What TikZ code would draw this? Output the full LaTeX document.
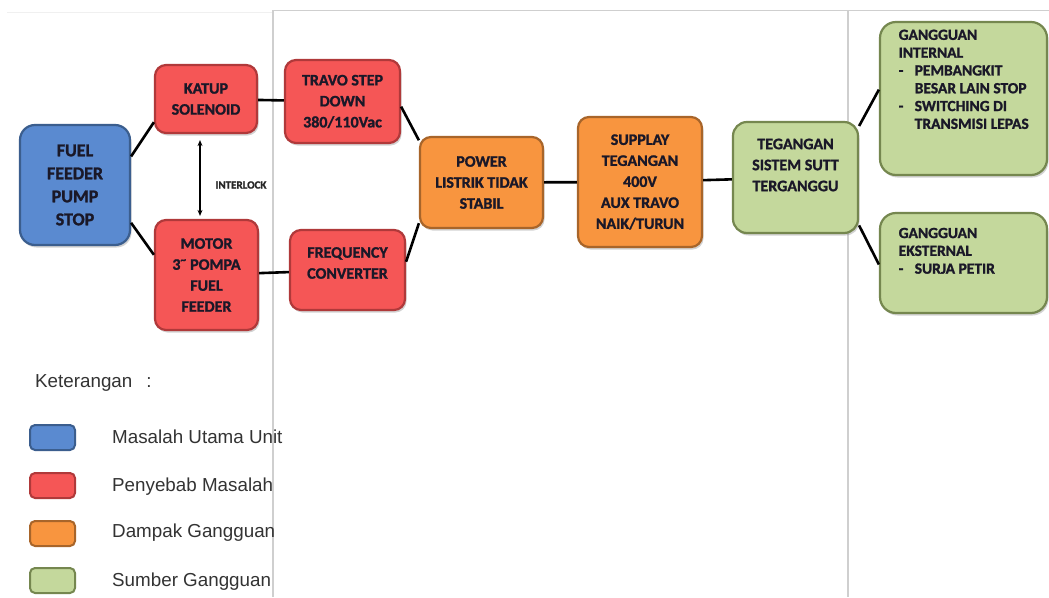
\documentclass[tikz,border=0pt]{standalone}
\usepackage{fontspec}
\newfontfamily\boxfont{Carlito}[BoldFeatures={FakeBold=1.4}]
\newfontfamily\legfont{Liberation Sans}
\usetikzlibrary{shadows,arrows.meta}

\definecolor{ink}{HTML}{1A1828}
\definecolor{blueF}{HTML}{5A8AD0}
\definecolor{blueD}{HTML}{3B5E8E}
\definecolor{redF}{HTML}{F55656}
\definecolor{redD}{HTML}{B0393A}
\definecolor{orgF}{HTML}{F8953F}
\definecolor{orgD}{HTML}{A8652A}
\definecolor{grnF}{HTML}{C4D89C}
\definecolor{grnD}{HTML}{75874F}
\definecolor{frame}{HTML}{CFCFCF}
\definecolor{legtext}{HTML}{333333}

\begin{document}
\begin{tikzpicture}[x=1pt,y=-1pt,
  box/.style={draw, line width=2.2pt, rounded corners=11pt, align=center,
    text=ink, inner sep=0pt,
    font=\boxfont\bfseries\fontsize{16}{21}\selectfont,
    drop shadow={shadow xshift=1.5pt,shadow yshift=-2.5pt,opacity=.35}},
  bluebox/.style={box, fill=blueF, draw=blueD, rounded corners=15pt},
  redbox/.style={box, fill=redF, draw=redD},
  orgbox/.style={box, fill=orgF, draw=orgD},
  grnbox/.style={box, fill=grnF, draw=grnD, rounded corners=16pt},
  boxtext/.style={text=ink, inner sep=0pt, align=center,
    font=\boxfont\bfseries\fontsize{16}{21}\selectfont},
  listtext/.style={text=ink, inner sep=0pt, align=left, anchor=north west,
    font=\boxfont\bfseries\fontsize{15.5}{17.8}\selectfont},
  link/.style={line width=2.6pt, black},
  swatch/.style={draw, line width=2pt, rounded corners=5pt,
    minimum width=45pt, minimum height=25pt, inner sep=0pt},
  legitem/.style={anchor=west, inner sep=0pt, text=legtext,
    font=\legfont\fontsize{18.8}{22}\selectfont}]

\useasboundingbox (0,0) rectangle (1049,597);
\fill[white] (0,0) rectangle (1049,597);

% panel frame lines
\draw[gray!12, line width=1pt] (7,12) -- (273,12);
\draw[frame, line width=1.4pt] (273,597) -- (273,10.5) -- (1049,10.5);
\draw[frame, line width=1.4pt] (848,10.5) -- (848,597);

% boxes
\node[bluebox, minimum width=110pt, minimum height=120pt,
  font=\boxfont\bfseries\fontsize{18}{23}\selectfont] (fuel) at (75,185)
  {FUEL\\FEEDER\\PUMP\\STOP};
\node[redbox, minimum width=102pt, minimum height=68pt] (katup) at (206,99)
  {KATUP\\SOLENOID};
\node[redbox, minimum width=103pt, minimum height=110pt] (motor) at (206.5,275)
  {MOTOR\\3\textsuperscript{\textasciitilde} POMPA\\FUEL\\FEEDER};
\node[redbox, minimum width=115pt, minimum height=83pt] (travo) at (342.5,101.5)
  {TRAVO STEP\\DOWN\\380/110Vac};
\node[redbox, minimum width=115pt, minimum height=80pt] (freq) at (347.5,270) {};
\node[boxtext] (freqtext) at (347.5,263) {FREQUENCY\\CONVERTER};
\node[orgbox, minimum width=123pt, minimum height=91pt] (power) at (481.5,182.5)
  {POWER\\LISTRIK TIDAK\\STABIL};
\node[orgbox, minimum width=124pt, minimum height=130pt] (supplay) at (640,182)
  {SUPPLAY\\TEGANGAN\\400V\\AUX TRAVO\\NAIK/TURUN};
\node[grnbox, rounded corners=14pt, minimum width=125pt, minimum height=111pt] (teg) at (795.5,177.5) {};
\node[boxtext] (tegtext) at (795.5,165) {TEGANGAN\\SISTEM SUTT\\TERGANGGU};
\node[grnbox, minimum width=167pt, minimum height=153pt] (gi) at (963.5,98.5) {};
\node[listtext] (gitext) at (898.5,29.5)
  {GANGGUAN\\INTERNAL\\\makebox[16pt][l]{-}PEMBANGKIT\\\hspace*{16pt}BESAR LAIN STOP\\
   \makebox[16pt][l]{-}SWITCHING DI\\\hspace*{16pt}TRANSMISI LEPAS};
\node[grnbox, minimum width=167pt, minimum height=100pt] (ge) at (963.5,263) {};
\node[listtext] (getext) at (898.5,227.7)
  {GANGGUAN\\EKSTERNAL\\\makebox[16pt][l]{-}SURJA PETIR};

% connectors
\draw[link] (fuel.27) -- (katup.204);
\draw[link] (fuel.-34) -- (motor.159);
\draw[link] (katup) -- (travo);
\draw[link] (motor) -- (freq);
\draw[link] (travo.-5) -- (power.146);
\draw[link] (freq.8) -- (power.213);
\draw[link] (power) -- (supplay);
\draw[link] (supplay) -- (teg);
\draw[link] (teg.39) -- (gi.174);
\draw[link] (teg.-37) -- (ge.181);

% interlock between valve and pump motor
\draw[line width=1.3pt, {Stealth[length=6pt,width=5pt]}-{Stealth[length=6pt,width=5pt]}]
  ([xshift=-6pt,yshift=-6pt]katup.south) -- ([xshift=-6.5pt,yshift=3pt]motor.north);
\node[inner sep=0pt, text=black!85, font=\boxfont\bfseries\fontsize{11}{12}\selectfont]
  (interlock) at (241,185) {INTERLOCK};

% legend
\node[anchor=west, inner sep=0pt, text=legtext, font=\legfont\fontsize{18.8}{22}\selectfont]
  (legtitle) at (35,383) {Keterangan\hspace{14pt}:};
\node[swatch, fill=blueF, draw=blueD] (swblue) at (52.5,437.5) {};
\node[swatch, fill=redF, draw=redD] (swred) at (52.5,485.5) {};
\node[swatch, fill=orgF, draw=orgD] (sworg) at (52.5,533.5) {};
\node[swatch, fill=grnF, draw=grnD] (swgrn) at (52.5,580.5) {};
\node[legitem] (lgblue) at (112,437) {Masalah Utama Unit};
\node[legitem] (lgred) at (112,487) {Penyebab Masalah};
\node[legitem] (lgorg) at (112,533) {Dampak Gangguan};
\node[legitem] (lggrn) at (112,582) {Sumber Gangguan};
\end{tikzpicture}
\end{document}
